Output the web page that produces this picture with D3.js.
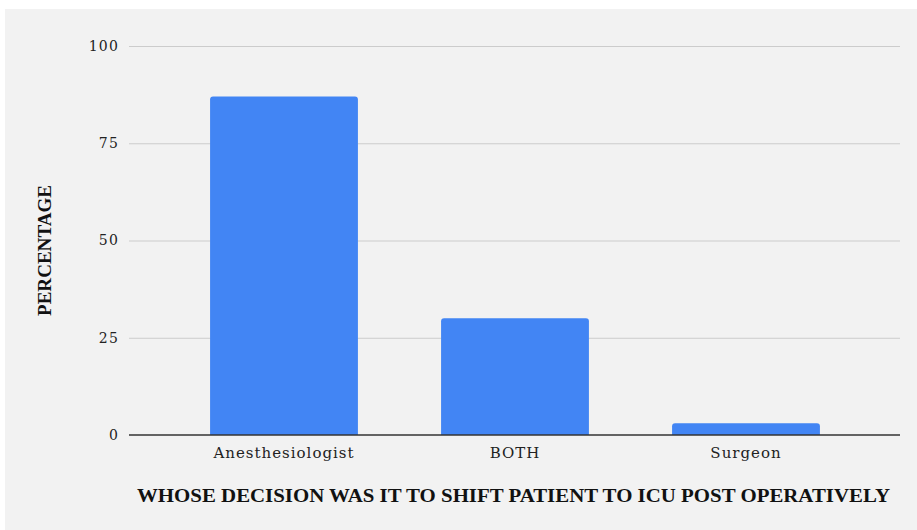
<!DOCTYPE html>
<html>
<head>
<meta charset="utf-8">
<script src="https://cdn.jsdelivr.net/npm/d3@7"></script>
<style>
  body { margin: 0; background: #fff; }
  svg { display: block; }
</style>
</head>
<body>
<svg width="917" height="530"></svg>
<script>
var categories = ["Anesthesiologist", "BOTH", "Surgeon"];
var values = [87, 30, 3];
var yTicks = [0, 25, 50, 75, 100];

var svg = d3.select("svg"),
    width = +svg.attr("width"),
    height = +svg.attr("height");

// grey card behind the chart
svg.append("rect")
    .attr("x", 5).attr("y", 9)
    .attr("width", width - 5).attr("height", height - 9)
    .attr("fill", "#f2f2f2");

var plotLeft = 129, plotRight = 900, plotTop = 46, plotBottom = 435;

var x = d3.scaleBand()
    .domain(categories)
    .range([168.5, 861.5])
    .paddingInner(0.36)
    .paddingOuter(0.18);

var y = d3.scaleLinear()
    .domain([0, 100])
    .range([plotBottom, plotTop]);

// gridlines
svg.append("g").selectAll("line")
    .data(yTicks.filter(function(d) { return d > 0; }))
    .enter().append("line")
    .attr("x1", plotLeft).attr("x2", plotRight)
    .attr("y1", function(d) { return y(d) + 0.5; })
    .attr("y2", function(d) { return y(d) + 0.5; })
    .attr("stroke", "#cccccc")
    .attr("stroke-width", 1);

// y tick labels
svg.append("g").selectAll("text")
    .data(yTicks)
    .enter().append("text")
    .attr("x", 119)
    .attr("y", function(d) { return y(d); })
    .attr("dy", "0.35em")
    .attr("text-anchor", "end")
    .attr("font-family", "DejaVu Serif")
    .attr("font-size", 14)
    .attr("letter-spacing", 1.2)
    .attr("fill", "#222")
    .text(function(d) { return d; });

// bars with slightly rounded top corners
var r = 3;
svg.append("g").selectAll("path")
    .data(values)
    .enter().append("path")
    .attr("fill", "#4285f4")
    .attr("d", function(d, i) {
      var x0 = x(categories[i]), w = x.bandwidth(), y0 = y(d), h = plotBottom - y0;
      var rr = Math.min(r, h);
      return "M" + x0 + "," + plotBottom +
        "V" + (y0 + rr) +
        "Q" + x0 + "," + y0 + " " + (x0 + rr) + "," + y0 +
        "H" + (x0 + w - rr) +
        "Q" + (x0 + w) + "," + y0 + " " + (x0 + w) + "," + (y0 + rr) +
        "V" + plotBottom + "Z";
    });

// baseline
svg.append("line")
    .attr("x1", plotLeft).attr("x2", plotRight)
    .attr("y1", plotBottom).attr("y2", plotBottom)
    .attr("stroke", "#333")
    .attr("stroke-width", 1.3);

// category labels
svg.append("g").selectAll("text")
    .data(categories)
    .enter().append("text")
    .attr("x", function(d) { return x(d) + x.bandwidth() / 2; })
    .attr("y", 458)
    .attr("text-anchor", "middle")
    .attr("font-family", "DejaVu Serif")
    .attr("font-size", 15)
    .attr("letter-spacing", 1)
    .attr("fill", "#222")
    .text(function(d) { return d; });

// axis titles
svg.append("text")
    .attr("x", 513.5)
    .attr("y", 502)
    .attr("text-anchor", "middle")
    .attr("font-family", "Liberation Serif")
    .attr("font-weight", "bold")
    .attr("font-size", 18)
    .attr("textLength", 753)
    .attr("lengthAdjust", "spacingAndGlyphs")
    .attr("fill", "#111")
    .text("WHOSE DECISION WAS IT TO SHIFT PATIENT TO ICU POST OPERATIVELY");

svg.append("text")
    .attr("transform", "translate(51,250.5) rotate(-90)")
    .attr("text-anchor", "middle")
    .attr("font-family", "Liberation Serif")
    .attr("font-weight", "bold")
    .attr("font-size", 18)
    .attr("textLength", 131)
    .attr("lengthAdjust", "spacingAndGlyphs")
    .attr("fill", "#111")
    .text("PERCENTAGE");
</script>
</body>
</html>
